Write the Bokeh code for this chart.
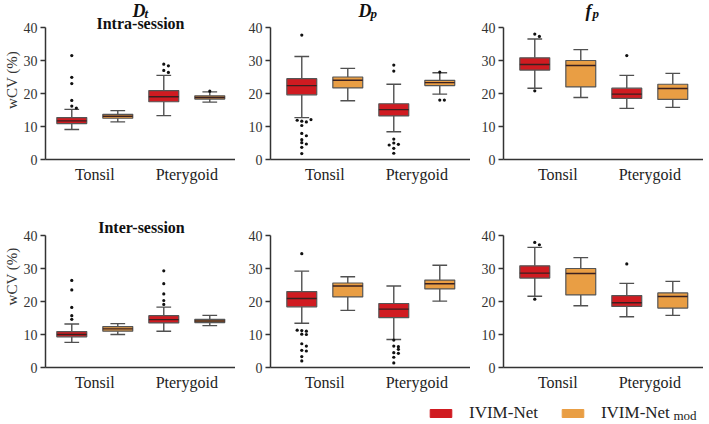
from bokeh.plotting import figure
from bokeh.layouts import column, row
from bokeh.models import Range1d, FixedTicker, Label, Legend, LegendItem
from bokeh.embed import file_html
from bokeh.resources import INLINE

# ---------------- data ----------------
categories = ["Tonsil", "Pterygoid"]
methods = ["IVIM-Net", "IVIM-Net"]
y_ticks = [0, 10, 20, 30, 40]

# each box: [lower whisker, Q1, median, Q3, upper whisker]
# order: Tonsil/IVIM-Net, Tonsil/IVIM-Net_mod, Pterygoid/IVIM-Net, Pterygoid/IVIM-Net_mod
intra_Dt_box = [[9.1, 10.9, 11.7, 12.7, 15.2], [11.4, 12.5, 13.1, 13.7, 14.8],
                [13.3, 17.5, 19.0, 20.9, 25.5], [17.4, 18.3, 18.8, 19.3, 20.5]]
intra_Dt_out = [[31.5, 24.9, 23.0, 17.9, 16.2, 15.6], [], [28.9, 28.4, 27.0, 26.4], [20.7]]

intra_Dp_box = [[12.7, 19.6, 22.4, 24.5, 31.2], [17.8, 21.7, 24.0, 25.0, 27.6],
                [8.4, 13.2, 15.1, 16.9, 22.8], [19.8, 22.4, 23.3, 24.0, 26.3]]
intra_Dp_out = [[37.7, 11.6, 11.4, 11.9, 12.1, 10.3, 7.9, 7.2, 6.0, 5.1, 4.7, 3.7, 1.8], [],
                [28.6, 26.8, 6.2, 5.0, 4.6, 4.4, 3.4, 1.9], [26.5, 18.0, 18.0]]

intra_fp_box = [[21.6, 27.1, 28.8, 30.8, 36.5], [18.8, 22.0, 28.5, 30.0, 33.3],
                [15.5, 18.5, 19.8, 21.6, 25.5], [15.8, 18.2, 21.5, 22.8, 26.1]]
intra_fp_out = [[38.0, 37.3, 20.8], [], [31.5], []]

inter_Dt_box = [[7.6, 9.3, 10.0, 10.9, 13.2], [10.0, 11.0, 11.7, 12.4, 13.3],
                [11.0, 13.5, 14.5, 15.7, 18.3], [12.7, 13.6, 14.1, 14.6, 15.8]]
inter_Dt_out = [[26.4, 23.5, 18.2, 15.7, 14.6], [], [29.3, 25.4, 22.3, 20.3, 19.1], []]

inter_Dp_box = [[13.4, 18.4, 20.9, 23.0, 29.2], [17.3, 21.4, 24.7, 25.6, 27.5],
                [8.5, 15.1, 17.7, 19.4, 24.7], [20.1, 23.8, 25.4, 26.5, 31.0]]
inter_Dp_out = [[34.5, 11.2, 11.0, 11.3, 10.1, 10.0, 7.2, 6.5, 5.2, 5.0, 3.3, 2.0], [],
                [8.3, 6.5, 6.3, 5.5, 4.5, 4.3, 3.1, 1.4], []]

inter_fp_box = [[21.6, 27.1, 28.6, 30.8, 36.4], [18.7, 22.0, 28.5, 30.0, 33.3],
                [15.4, 18.5, 19.6, 21.8, 25.5], [15.8, 18.0, 21.5, 22.6, 26.1]]
inter_fp_out = [[37.9, 37.2, 20.7], [], [31.4], []]

# ---------------- styling ----------------
RED = "#d01b21"
ORANGE = "#e99e44"
FILLS = [RED, ORANGE, RED, ORANGE]
FONT = "Liberation Serif"
PX_PER_X = 46.0          # px per x unit
PX_PER_Y = 132.0 / 40.0  # px per y unit (0..40 spans 132 px)
GROUP_CENTERS = [1.18, 3.18]
BOX_W = 0.65
CAP_W = 0.32


def box_positions():
    xs = []
    for gc in GROUP_CENTERS:
        xs += [gc - 0.5, gc + 0.5]
    return xs


def dodge(vals, step=0.1, tol=0.9):
    offs, placed = [], []
    for v in vals:
        n = sum(1 for u in placed if abs(u - v) < tol)
        k = ((n + 1) // 2) * (1 if n % 2 else -1)
        offs.append(k * step)
        placed.append(v)
    return offs


def make_panel(box, out, fw, fh, bl, br, bb, ylabel=None, xshift_px=0):
    x0 = xshift_px / PX_PER_X
    xend = x0 + fw / PX_PER_X
    yend = fh / PX_PER_Y
    p = figure(frame_width=fw, frame_height=fh, x_range=Range1d(x0, xend), y_range=Range1d(0, yend),
               output_backend="svg", toolbar_location=None,
               min_border_left=bl, min_border_right=br, min_border_top=0, min_border_bottom=bb)
    p.xgrid.visible = False
    p.ygrid.visible = False
    p.outline_line_color = None
    p.background_fill_color = "white"
    p.border_fill_color = "white"

    xs = box_positions()
    lo = [b[0] for b in box]
    q1 = [b[1] for b in box]
    md = [b[2] for b in box]
    q3 = [b[3] for b in box]
    hi = [b[4] for b in box]

    wc = "#505050"
    p.segment(x0=xs, y0=q3, x1=xs, y1=hi, line_color=wc, line_width=1.4)
    p.segment(x0=xs, y0=lo, x1=xs, y1=q1, line_color=wc, line_width=1.4)
    p.segment(x0=[x - CAP_W / 2 for x in xs], y0=hi, x1=[x + CAP_W / 2 for x in xs], y1=hi,
              line_color=wc, line_width=1.4)
    p.segment(x0=[x - CAP_W / 2 for x in xs], y0=lo, x1=[x + CAP_W / 2 for x in xs], y1=lo,
              line_color=wc, line_width=1.4)
    p.vbar(x=xs, width=BOX_W, bottom=q1, top=q3, fill_color=FILLS, line_color="#555555", line_width=1.2)
    p.segment(x0=[x - BOX_W / 2 for x in xs], y0=md, x1=[x + BOX_W / 2 for x in xs], y1=md,
              line_color="#3a2020", line_width=1.4)
    ox, oy = [], []
    for x, vals in zip(xs, out):
        for v, d in zip(vals, dodge(vals)):
            ox.append(x + d)
            oy.append(v)
    p.scatter(x=ox, y=oy, size=3.2, marker="circle", fill_color="#111111", line_color=None)

    xa = p.xaxis[0]
    xa.ticker = FixedTicker(ticks=GROUP_CENTERS)
    xa.major_label_overrides = {GROUP_CENTERS[0]: categories[0], GROUP_CENTERS[1]: categories[1]}
    xa.major_tick_out = 0
    xa.major_tick_in = 0
    xa.minor_tick_out = 0
    xa.minor_tick_in = 0
    xa.major_label_standoff = 6
    xa.major_label_text_font = FONT
    xa.major_label_text_font_size = "16px"
    xa.major_label_text_color = "#222222"
    xa.axis_line_color = "#333333"
    xa.axis_line_width = 1.5

    ya = p.yaxis[0]
    ya.ticker = FixedTicker(ticks=y_ticks)
    ya.bounds = (0, 40)
    ya.major_tick_out = 5
    ya.major_tick_in = 0
    ya.minor_tick_out = 0
    ya.minor_tick_in = 0
    ya.major_tick_line_color = "#333333"
    ya.major_tick_line_width = 1.5
    ya.major_label_standoff = 3
    ya.major_label_text_font = FONT
    ya.major_label_text_font_size = "14px"
    ya.major_label_text_color = "#333333"
    ya.axis_line_color = "#333333"
    ya.axis_line_width = 1.5
    if ylabel:
        ya.axis_label = ylabel
        ya.axis_label_text_font = FONT
        ya.axis_label_text_font_style = "normal"
        ya.axis_label_text_font_size = "15px"
        ya.axis_label_text_color = "#333333"
        ya.axis_label_standoff = 1
    return p, x0, xend


def above_top(px):
    """data y for a point px pixels above the 40 line"""
    return 40 + px / PX_PER_Y


def add_param_title(p, x0, main, sub, xoff_main, xoff_sub):
    p.add_layout(Label(x=x0, y=above_top(17), x_offset=xoff_main, text=main, text_font=FONT,
                       text_font_style="bold italic", text_font_size="18px", text_color="#111111",
                       text_align="left", text_baseline="alphabetic"))
    p.add_layout(Label(x=x0, y=above_top(14.5), x_offset=xoff_sub, text=sub, text_font=FONT,
                       text_font_style="bold italic", text_font_size="13px", text_color="#111111",
                       text_align="left", text_baseline="alphabetic"))


def add_session_title(p, x0, xend, text, px_above, xoff=0):
    p.add_layout(Label(x=(x0 + xend) / 2, y=above_top(px_above), x_offset=xoff, text=text, text_font=FONT,
                       text_font_style="bold", text_font_size="16px", text_color="#111111",
                       text_align="center", text_baseline="alphabetic"))


TOP = dict(fh=159, bb=26)
BOT = dict(fh=182, bb=26)

f1, a1, e1 = make_panel(intra_Dt_box, intra_Dt_out, 190, bl=45, br=0, ylabel="wCV (%)", xshift_px=5, **TOP)
f2, a2, e2 = make_panel(intra_Dp_box, intra_Dp_out, 200, bl=35, br=0, **TOP)
f3, a3, e3 = make_panel(intra_fp_box, intra_fp_out, 200, bl=33, br=0, **TOP)
f4, a4, e4 = make_panel(inter_Dt_box, inter_Dt_out, 190, bl=45, br=0, ylabel="wCV (%)", xshift_px=5, **BOT)
f5, a5, e5 = make_panel(inter_Dp_box, inter_Dp_out, 200, bl=35, br=0, **BOT)
f6, a6, e6 = make_panel(inter_fp_box, inter_fp_out, 200, bl=33, br=0, **BOT)

add_param_title(f1, a1, "D", "t", 87, 99)
add_param_title(f2, a2, "D", "p", 88, 100)
add_param_title(f3, a3, "f", "p", 82, 89)
add_session_title(f1, a1, e1, "Intra-session", 4)
add_session_title(f4, a4, e4, "Inter-session", 8, xoff=1)

# ---------------- legend ----------------
LW, LH = 708, 30
lf = figure(width=LW, height=LH, x_range=Range1d(0, LW), y_range=Range1d(0, LH),
            output_backend="svg", toolbar_location=None, min_border=0,
            x_axis_location=None, y_axis_location=None)
lf.outline_line_color = None
lf.xgrid.visible = False
lf.ygrid.visible = False
nan = float("nan")
r1 = lf.quad(left=[nan], right=[nan], top=[nan], bottom=[nan], fill_color=RED, line_color=RED)
r2 = lf.quad(left=[nan], right=[nan], top=[nan], bottom=[nan], fill_color=ORANGE, line_color=ORANGE)
leg = Legend(items=[LegendItem(label=methods[0], renderers=[r1]),
                    LegendItem(label=methods[1], renderers=[r2])],
             orientation="horizontal", location=(427, 0), glyph_width=27, glyph_height=10,
             label_standoff=15, spacing=21, padding=0, margin=0,
             border_line_color=None, background_fill_alpha=0,
             label_text_font=FONT, label_text_font_size="17px", label_text_color="#222222")
lf.add_layout(leg)
lf.add_layout(Label(x=673, y=1, text="mod", text_font=FONT, text_font_size="13px",
                    text_color="#222222", text_align="left", text_baseline="bottom"))

layout = column(row(f1, f2, f3), row(f4, f5, f6), lf)
open("out.html", "w").write(file_html(layout, INLINE))
